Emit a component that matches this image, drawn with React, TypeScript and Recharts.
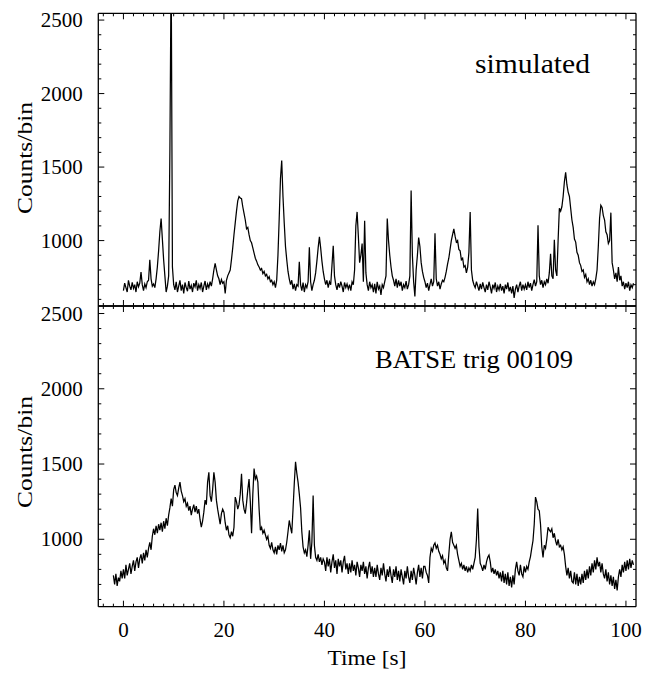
import { LineChart, Line, XAxis, YAxis } from "recharts";

// 0.25 s bins
const binStep = 0.25;
const simStart = 0;
const batseStart = -2;

const simCounts = [
  // 0 - 4.75
  660, 710, 680, 650, 730, 690, 665, 715, 675, 700, 650, 720, 685, 710, 785, 700, 660, 705, 680, 720,
  // 5 - 9.75
  730, 870, 740, 690, 705, 680, 740, 820, 930, 1060, 1150, 1010, 870, 760, 650, 690, 760, 1620, 2900, 820,
  // 10
  700, 665, 720, 650, 690, 730, 660, 700, 640, 715, 680, 655, 725, 670, 695, 650, 710, 685, 730, 660,
  // 15
  700, 675, 715, 650, 690, 725, 665, 705, 680, 720, 690, 740, 800, 845, 800, 760, 740, 700, 735, 710,
  // 20
  720, 640, 730, 760, 780, 800, 870, 950, 1040, 1120, 1200, 1270, 1300, 1290, 1285, 1230, 1185, 1140, 1080, 1090,
  // 25
  1040, 1000, 985, 950, 915, 880, 860, 835, 820, 800, 810, 775, 790, 760, 770, 740, 755, 720, 730, 700,
  // 30
  720, 680, 730, 900, 1150, 1420, 1545, 1300, 1120, 960, 870, 790, 740, 700, 730, 670, 705, 660, 700, 690,
  // 35
  855, 700, 660, 715, 650, 700, 680, 720, 955, 720, 660, 700, 730, 780, 860, 950, 1025, 950, 860, 790,
  // 40
  740, 700, 730, 680, 720, 700, 830, 965, 760, 700, 665, 710, 680, 720, 690, 650, 715, 680, 705, 670,
  // 45
  700, 660, 720, 700, 800, 1100, 1195, 1030, 850, 900, 980, 720, 1135, 780, 700, 660, 720, 680, 700, 650,
  // 50
  705, 640, 720, 670, 690, 630, 700, 680, 720, 760, 1150, 1000, 900, 820, 760, 730, 690, 740, 680, 730,
  // 55
  690, 720, 660, 700, 680, 725, 670, 700, 760, 1340, 900, 720, 620, 800, 900, 1020, 960, 850, 790, 750,
  // 60
  720, 680, 710, 660, 700, 740, 690, 720, 1050, 740, 690, 720, 670, 705, 730, 720, 750, 790, 840, 880,
  // 65
  940, 1000, 1040, 1080, 1030, 990, 1000, 940, 930, 870, 880, 820, 830, 780, 820, 920, 1195, 800, 730, 700,
  // 70
  680, 720, 690, 660, 705, 670, 715, 680, 650, 700, 665, 720, 685, 640, 700, 675, 715, 650, 690, 665,
  // 75
  705, 660, 690, 640, 700, 670, 715, 655, 685, 640, 690, 610, 670, 700, 650, 690, 720, 660, 700, 670,
  // 80
  700, 665, 720, 680, 710, 660, 700, 735, 690, 720, 1105, 760, 700, 730, 680, 720, 700, 740, 710, 780,
  // 85
  910, 760, 740, 1005, 800, 760, 1000, 1220, 1200, 1230, 1300, 1400, 1465, 1380, 1330, 1300, 1220, 1140, 1090, 1010,
  // 90
  990, 920, 900, 850, 830, 790, 800, 750, 770, 720, 740, 700, 730, 690, 720, 700, 740, 800, 960, 1150,
  // 95
  1240, 1225, 1170, 1140, 1060, 1040, 980, 1000, 1190, 850, 800, 740, 780, 720, 820, 730, 760, 690, 720, 670,
  // 100 - 101.5
  710, 680, 720, 660, 700, 680, 710,
];

const batseCounts = [
  // -2 - -0.25
  760, 700, 770, 690, 745, 720, 790, 740,
  // 0
  800, 740, 830, 760, 800, 840, 770, 820, 860, 790, 850, 880, 810, 870, 900, 840, 910, 860, 930, 880,
  // 5
  940, 980, 930, 1020, 1070, 1030, 1090, 1040, 1100, 1060, 1110, 1050, 1120, 1070, 1140, 1090, 1160, 1210, 1270, 1220,
  // 10
  1330, 1360, 1310, 1290, 1340, 1380, 1320, 1290, 1250, 1270, 1220, 1240, 1190, 1220, 1160, 1200, 1230, 1180, 1220, 1170,
  // 15
  1200, 1130, 1080, 1120, 1180, 1260, 1230, 1380, 1445, 1290, 1250, 1330, 1445, 1380, 1260, 1200, 1150, 1100, 1170, 1200,
  // 20
  1180, 1110, 1060, 1090, 1030, 1010, 1050, 1020, 1080, 1280, 1250, 1200, 1230, 1300, 1435, 1260, 1200, 1170, 1240, 1330,
  // 25
  1400, 1250, 1040, 1300, 1470, 1400, 1420, 1380, 1200, 1060, 1080, 1040, 1060, 1030, 1000, 1020, 960, 940, 980, 930,
  // 30
  910, 950, 900, 960, 930, 975, 920, 960, 910, 930, 980, 1050, 1125, 1080, 1040, 1200, 1370, 1515, 1440, 1380,
  // 35
  1300, 1210, 1050, 950, 910, 930, 885, 960, 1060, 870, 980, 1290, 960, 880, 860, 900, 850, 880, 830, 870,
  // 40
  850, 790, 880, 820, 870, 780, 850, 900, 810, 860, 770, 870, 820, 860, 780, 850, 890, 800, 840, 770,
  // 45
  840, 780, 860, 790, 830, 760, 850, 810, 750, 830, 790, 850, 770, 820, 740, 810, 850, 770, 820, 750,
  // 50
  810, 750, 830, 770, 730, 810, 760, 840, 770, 720, 800, 750, 820, 760, 710, 800, 750, 820, 730, 790,
  // 55
  720, 800, 750, 700, 790, 740, 820, 750, 710, 790, 730, 810, 760, 700, 780, 830, 750, 810, 740, 820,
  // 60
  820, 780, 760, 710, 880, 940, 920, 960, 975, 940, 960, 920, 900, 870, 890, 840, 860, 810, 790, 900,
  // 65
  1000, 1050, 980, 960, 940, 960, 900, 860, 820, 840, 800, 830, 790, 820, 780, 810, 790, 830, 800, 840,
  // 70
  880, 1000, 1205, 950, 840, 820, 790, 830, 800, 850, 880, 895, 850, 780, 810, 770, 800, 760, 790, 740,
  // 75
  780, 720, 790, 710, 770, 700, 780, 690, 750, 680, 760, 700, 800, 850, 790, 760, 830, 770, 750, 820,
  // 80
  780, 820, 800, 850, 885, 940, 990, 1100, 1280, 1250, 1200, 1190, 1100, 950, 880, 960, 940, 1000, 1080, 1060,
  // 85
  1050, 1070, 1010, 1040, 990, 960, 1000, 950, 960, 930, 950, 900, 820, 760, 810, 740, 790, 720, 710, 780,
  // 90
  700, 770, 690, 750, 700, 770, 710, 790, 730, 800, 740, 820, 760, 840, 780, 860, 800, 880, 820, 850,
  // 95
  780, 840, 770, 740, 800, 720, 780, 700, 760, 690, 750, 670, 730, 660, 750, 800, 750, 830, 780, 850,
  // 100 - 101.5
  790, 860, 800, 870, 810, 860, 830,
];

const timeTicks = [
  -4, -2, 0, 2, 4, 6, 8, 10, 12, 14, 16, 18, 20, 22, 24, 26, 28, 30, 32, 34, 36, 38, 40, 42, 44, 46, 48,
  50, 52, 54, 56, 58, 60, 62, 64, 66, 68, 70, 72, 74, 76, 78, 80, 82, 84, 86, 88, 90, 92, 94, 96, 98, 100,
];
const timeLabels = [0, 20, 40, 60, 80, 100];
const countTicks = [
  600, 700, 800, 900, 1000, 1100, 1200, 1300, 1400, 1500, 1600, 1700, 1800, 1900, 2000, 2100, 2200, 2300,
  2400, 2500,
];
const countLabels = [1000, 1500, 2000, 2500];

const simData = simCounts.map((c, i) => ({ t: simStart + i * binStep, c }));
const batseData = batseCounts.map((c, i) => ({ t: batseStart + i * binStep, c }));

const FONT = '"Liberation Serif", "Times New Roman", serif';
const frame = { stroke: "#000", strokeWidth: 1.3 };

type Side = "left" | "right" | "top" | "bottom";

function Tick(props: any) {
  const { x, y, payload, side, labelled } = props as {
    x: number;
    y: number;
    payload: { value: number };
    side: Side;
    labelled: boolean;
  };
  const v = payload.value;
  const major = side === "left" || side === "right" ? countLabels.includes(v) : timeLabels.includes(v);
  const len = major ? 6 : 3;
  let x2 = x;
  let y2 = y;
  if (side === "left") x2 = x + len;
  if (side === "right") x2 = x - len;
  if (side === "bottom") y2 = y - len;
  if (side === "top") y2 = y + len;
  return (
    <g>
      <line x1={x} y1={y} x2={x2} y2={y2} stroke="#000" strokeWidth={1} />
      {labelled && major && side === "left" && (
        <text x={x - 15.6} y={y + 7} textAnchor="end" fontFamily={FONT} fontSize={21} fill="#000">
          {v}
        </text>
      )}
      {labelled && major && side === "bottom" && (
        <text x={x} y={y + 30.3} textAnchor="middle" fontFamily={FONT} fontSize={21} fill="#000">
          {v}
        </text>
      )}
    </g>
  );
}

function Panel({
  data,
  height,
  margin,
  yDomain,
  xLabels,
}: {
  data: { t: number; c: number }[];
  height: number;
  margin: { top: number; right: number; bottom: number; left: number };
  yDomain: [number, number];
  xLabels: boolean;
}) {
  return (
    <LineChart width={647} height={height} data={data} margin={margin}>
      <XAxis
        dataKey="t"
        type="number"
        domain={[-5, 102]}
        allowDataOverflow
        ticks={timeTicks}
        interval={0}
        height={1}
        tickSize={0}
        tickMargin={0}
        tickLine={false}
        axisLine={frame}
        tick={(p: any) => <Tick {...p} side="bottom" labelled={xLabels} />}
      />
      <XAxis
        xAxisId="top"
        orientation="top"
        dataKey="t"
        type="number"
        domain={[-5, 102]}
        allowDataOverflow
        ticks={timeTicks}
        interval={0}
        height={1}
        tickSize={0}
        tickMargin={0}
        tickLine={false}
        axisLine={frame}
        tick={(p: any) => <Tick {...p} side="top" labelled={false} />}
      />
      <YAxis
        type="number"
        domain={yDomain}
        allowDataOverflow
        ticks={countTicks}
        interval={0}
        width={1}
        tickSize={0}
        tickMargin={0}
        tickLine={false}
        axisLine={frame}
        tick={(p: any) => <Tick {...p} side="left" labelled />}
      />
      <YAxis
        yAxisId="r"
        orientation="right"
        type="number"
        domain={yDomain}
        allowDataOverflow
        ticks={countTicks}
        interval={0}
        width={1}
        tickSize={0}
        tickMargin={0}
        tickLine={false}
        axisLine={frame}
        tick={(p: any) => <Tick {...p} side="right" labelled={false} />}
      />
      <Line
        type="linear"
        dataKey="c"
        stroke="#000"
        strokeWidth={1.25}
        dot={false}
        activeDot={false}
        isAnimationActive={false}
      />
    </LineChart>
  );
}

export default function App() {
  return (
    <div style={{ position: "absolute", left: 0, top: 0, width: 647, height: 673, background: "#fff" }}>
      <div style={{ position: "absolute", left: 0, top: 0 }}>
        <Panel
          data={simData}
          height={320}
          margin={{ top: 12.3, right: 10, bottom: 13, left: 97.3 }}
          yDomain={[555, 2546]}
          xLabels={false}
        />
      </div>
      <div style={{ position: "absolute", left: 0, top: 0 }}>
        <Panel
          data={batseData}
          height={673}
          margin={{ top: 305, right: 10, bottom: 65.3, left: 97.3 }}
          yDomain={[552, 2550]}
          xLabels
        />
      </div>
      <svg
        width={647}
        height={673}
        style={{ position: "absolute", left: 0, top: 0, pointerEvents: "none" }}
        fontFamily={FONT}
        fill="#000"
      >
        <text x={32} y={158} transform="rotate(-90 32 158)" textAnchor="middle" fontSize={22} textLength={112} lengthAdjust="spacingAndGlyphs">
          Counts/bin
        </text>
        <text x={32} y={452} transform="rotate(-90 32 452)" textAnchor="middle" fontSize={22} textLength={112} lengthAdjust="spacingAndGlyphs">
          Counts/bin
        </text>
        <text x={475} y={73} fontSize={27} textLength={115} lengthAdjust="spacingAndGlyphs">
          simulated
        </text>
        <text x={375} y={368} fontSize={26} textLength={198} lengthAdjust="spacingAndGlyphs">
          BATSE trig 00109
        </text>
        <text x={367} y={665} textAnchor="middle" fontSize={21} textLength={79} lengthAdjust="spacingAndGlyphs">
          Time [s]
        </text>
      </svg>
    </div>
  );
}
